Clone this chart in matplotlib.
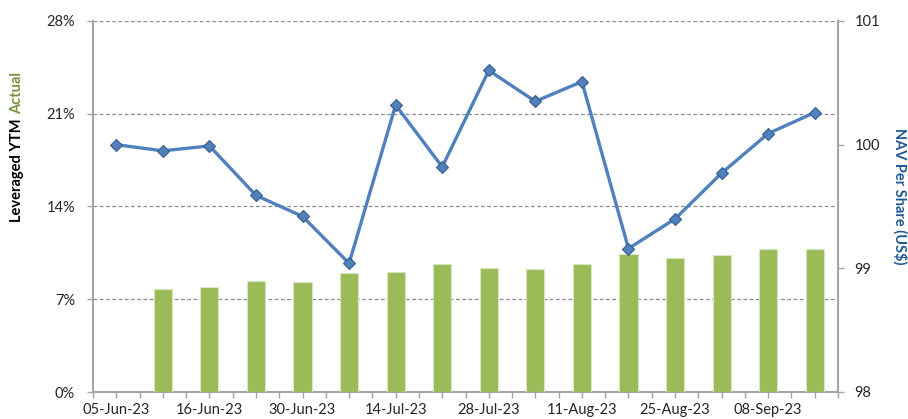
import numpy as np
import matplotlib
matplotlib.use('Agg')
import matplotlib.pyplot as plt
from matplotlib.ticker import FixedLocator, FuncFormatter

# weekly data points
dates = ['05-Jun-23', '09-Jun-23', '16-Jun-23', '23-Jun-23', '30-Jun-23', '07-Jul-23',
         '14-Jul-23', '21-Jul-23', '28-Jul-23', '04-Aug-23', '11-Aug-23', '18-Aug-23',
         '25-Aug-23', '01-Sep-23', '08-Sep-23', '15-Sep-23']
ytm_actual = [np.nan, 7.75, 7.90, 8.35, 8.28, 9.00, 9.06, 9.66, 9.36, 9.31, 9.68,
              10.44, 10.14, 10.32, 10.77, 10.79]
nav = [100.00, 99.95, 99.99, 99.59, 99.42, 99.04, 100.32, 99.82, 100.60, 100.35,
       100.51, 99.16, 99.40, 99.77, 100.09, 100.26]

plt.rcParams['font.family'] = ['Lato', 'DejaVu Sans']

bar_color = '#9BBB59'
line_color = '#4F81BD'
axis_grey = '#A6A6A6'

fig = plt.figure(figsize=(9.08, 4.19), dpi=100)
ax = fig.add_axes([93/908, 1 - 392/419, (838 - 93)/908, (392 - 21)/419])

x = np.arange(len(dates))
ytm = np.array(ytm_actual)
ok = ~np.isnan(ytm)
ax.bar(x[ok], ytm[ok], width=0.39, color=bar_color, edgecolor='#D7E4BD', linewidth=0.8, zorder=3)

ax.set_xlim(-0.5, len(dates) - 0.5)
ax.set_ylim(0, 28)
ax.set_yticks([0, 7, 14, 21, 28])
ax.yaxis.set_major_formatter(FuncFormatter(lambda v, p: f'{v:.0f}%'))
ax.grid(axis='y', color='#8C8C8C', linestyle=(0, (3, 2)), linewidth=0.9, zorder=0)

# ticks at category centres and boundaries, labels every other week
ax.xaxis.set_major_locator(FixedLocator(x[::2]))
ax.set_xticklabels(dates[::2])
ax.xaxis.set_minor_locator(FixedLocator(np.arange(-0.5, len(dates), 0.5)))
ax.tick_params(axis='x', which='both', length=4, color=axis_grey, width=1, pad=4,
               labelsize=10.5, labelcolor='#262626')
ax.tick_params(axis='y', length=4, color=axis_grey, width=1, pad=9,
               labelsize=10.5, labelcolor='#262626')

for s in ['top', 'right']:
    ax.spines[s].set_visible(False)
for s in ['left', 'bottom']:
    ax.spines[s].set_color(axis_grey)
    ax.spines[s].set_linewidth(1.5)

ax2 = ax.twinx()
ax2.plot(x, nav, color=line_color, lw=2.4, marker='D', markersize=6.5,
         markerfacecolor=line_color, markeredgecolor='#385D8A', markeredgewidth=0.8,
         zorder=4)
ax2.set_ylim(98, 101)
ax2.set_yticks([98, 99, 100, 101])
ax2.tick_params(axis='y', length=4, color=axis_grey, width=1, pad=8,
                labelsize=10.5, labelcolor='#262626')
for s in ['top', 'left', 'bottom']:
    ax2.spines[s].set_visible(False)
ax2.spines['right'].set_color(axis_grey)
ax2.spines['right'].set_linewidth(1.5)

# axis titles: two-colour left title, placed word group after word group
t1 = fig.text(17/908, 1 - 222/419, 'Leveraged YTM', rotation=90, ha='center', va='bottom',
              fontsize=10.5, fontweight='bold', color='black')
fig.canvas.draw()
bb = t1.get_window_extent(fig.canvas.get_renderer())
top_px = bb.y1 + 5
fig.text(17/908, top_px / fig.bbox.height, 'Actual', rotation=90, ha='center', va='bottom',
         fontsize=10.5, fontweight='bold', color='#77933C')
fig.text(900/908, 1 - 196/419, 'NAV Per Share (US$)', rotation=-90, ha='center', va='center',
         fontsize=10.5, fontweight='bold', color='#1F5A96')

fig.savefig('out.png', dpi=100)
